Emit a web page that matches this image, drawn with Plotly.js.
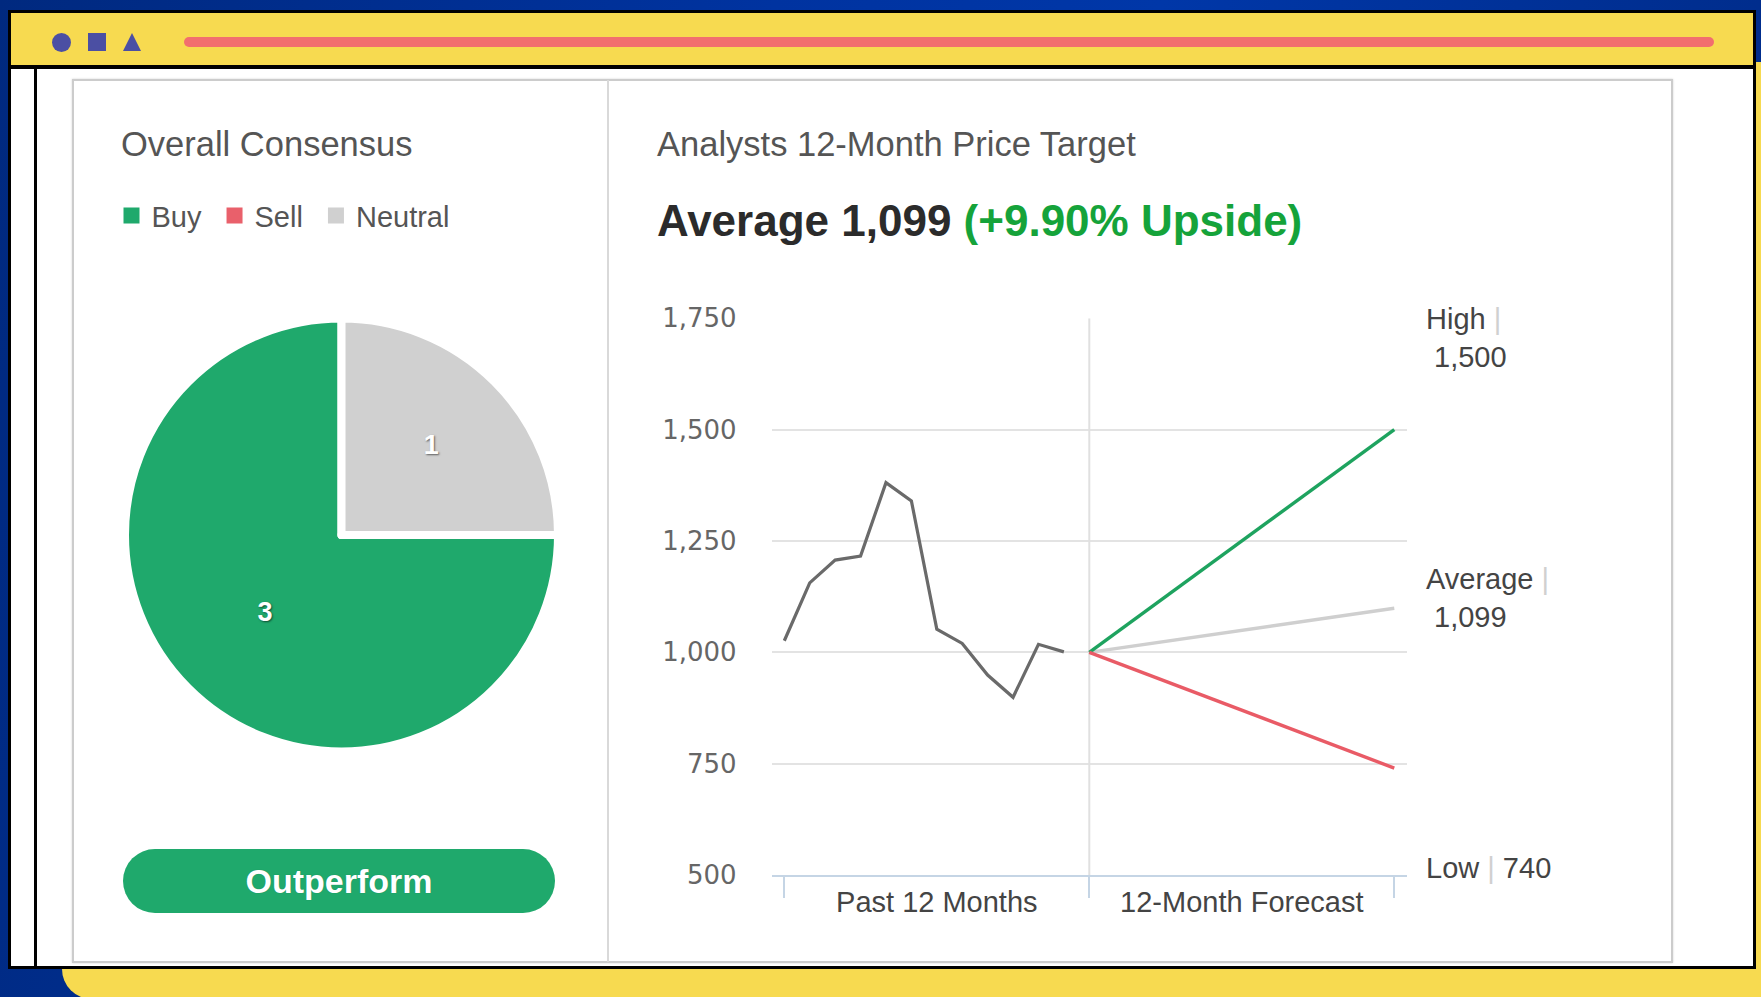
<!DOCTYPE html>
<html>
<head>
<meta charset="utf-8">
<script src="https://cdn.plot.ly/plotly-3.0.1.min.js"></script>
<style>
html,body{margin:0;padding:0;}
body{width:1761px;height:997px;overflow:hidden;position:relative;
  background:linear-gradient(100deg,#00297f 0%,#0033a0 40%,#0037a8 60%,#002a85 100%);
  font-family:"Liberation Sans",Arial,sans-serif;}
.abs{position:absolute;box-sizing:border-box;}
#back{left:62px;top:62px;width:1740px;height:937px;background:#f7da50;border-radius:30px;}
#win{left:8px;top:10px;width:1748px;height:959px;border:3px solid #000;background:#fff;}
#hdr{left:11px;top:13px;width:1742px;height:52px;background:#f7da50;}
#hdrline{left:11px;top:65px;width:1742px;height:3.5px;background:#000;}
#vline{left:34px;top:68px;width:2.5px;height:898px;background:#000;}
#ico1{left:52px;top:32.5px;width:19px;height:19px;border-radius:50%;background:#4b4fa3;}
#ico2{left:87.5px;top:32.5px;width:18.5px;height:18.5px;background:#4b4fa3;}
#ico3{left:122.5px;top:33px;width:0;height:0;border-left:9.5px solid transparent;border-right:9.5px solid transparent;border-bottom:18px solid #4b4fa3;}
#bar{left:183.7px;top:36.7px;width:1530px;height:10px;border-radius:5px;background:#f26e6e;}
#card{left:72px;top:79px;width:1601px;height:884px;border:2px solid #cccccc;background:#fff;box-shadow:0 0 2px rgba(0,0,0,0.18);}
#divider{left:607px;top:80px;width:2px;height:882px;background:#d9d9d9;}
#btn{left:123px;top:849px;width:432px;height:64px;border-radius:32px;background:#1fa96c;color:#fff;
  font-weight:bold;font-size:34px;line-height:64px;text-align:center;
  text-shadow:0 0 1px rgba(0,0,0,0.25);}
#chart{left:0;top:0;width:1761px;height:997px;}
</style>
</head>
<body>
<div class="abs" id="back"></div>
<div class="abs" id="win"></div>
<div class="abs" id="hdr"></div>
<div class="abs" id="hdrline"></div>
<div class="abs" id="vline"></div>
<div class="abs" id="ico1"></div>
<div class="abs" id="ico2"></div>
<div class="abs" id="ico3"></div>
<div class="abs" id="bar"></div>
<div class="abs" id="card"></div>
<div class="abs" id="divider"></div>
<div class="abs" id="btn"></div>
<div class="abs" id="chart"></div>
<script>
// ---------- DATA ----------
const consensusLabels = ['Buy', 'Sell', 'Neutral'];
const consensusCounts = [3, 0, 1];
const consensusColors = ['#1fa96c', '#e9606b', '#d0d0d0'];
const consensusRating = 'Outperform';

const pastPrices = [1026, 1156, 1207, 1216, 1381, 1340, 1052, 1020, 949, 899, 1018, 1001];
const currentPrice = 1000;
const forecastMonths = 12;
const targetLabels = ['Average', 'High', 'Low'];
const targetValues = [1099, 1500, 740];
const targetColors = ['#cfcfcf', '#1ea35f', '#e95b66'];
const periodLabels = ['Past 12 Months', '12-Month Forecast'];
const yTicks = [500, 750, 1000, 1250, 1500, 1750];

// ---------- HELPERS ----------
const fmt = v => v.toLocaleString('en-US');
const nPast = pastPrices.length;
const xEnd = nPast + forecastMonths;
const avgTarget = targetValues[targetLabels.indexOf('Average')];
const upside = (avgTarget / currentPrice - 1) * 100;

document.getElementById('btn').textContent = consensusRating;

// ---------- TRACES ----------
const traces = [];

traces.push({
  type: 'pie',
  labels: consensusLabels,
  values: consensusCounts,
  sort: false,
  direction: 'counterclockwise',
  rotation: 90,
  marker: {colors: consensusColors, line: {color: '#ffffff', width: 8}},
  textinfo: 'value',
  textposition: 'inside',
  insidetextorientation: 'horizontal',
  insidetextfont: {family: 'Liberation Sans, Arial, sans-serif', size: 27, color: '#ffffff', weight: 'bold',
                   shadow: '1px 1px 2px rgba(0,0,0,0.55)'},
  domain: {x: [125/1761, 558/1761], y: [245.5/997, 678.5/997]},
  showlegend: false,
  hoverinfo: 'label+value'
});

// legend entries for the consensus categories (trailing no-break space widens the item gap)
consensusLabels.forEach((lab, i) => {
  traces.push({
    type: 'scatter', mode: 'markers', x: [null], y: [null],
    name: lab + '\u00a0', marker: {symbol: 'square', size: 16, color: consensusColors[i]},
    showlegend: true, hoverinfo: 'skip'
  });
});

traces.push({
  type: 'scatter', mode: 'lines',
  x: pastPrices.map((v, i) => i), y: pastPrices,
  line: {color: '#6a6a6a', width: 3.2},
  showlegend: false, hoverinfo: 'y'
});

targetLabels.forEach((lab, i) => {
  traces.push({
    type: 'scatter', mode: 'lines',
    x: [nPast, xEnd], y: [currentPrice, targetValues[i]],
    line: {color: targetColors[i], width: 3.4},
    showlegend: false, name: lab, hoverinfo: 'name+y'
  });
});

// ---------- ANNOTATIONS ----------
const sep = '<span style="color:#d0d0d0">|</span>';
const labelShift = {High: 92, Average: 10, Low: -100};
const annotations = [
  {text: 'Overall Consensus', xref: 'paper', yref: 'paper', x: 119/1761, y: 1 - 143.5/997,
   xanchor: 'left', yanchor: 'middle', showarrow: false, font: {size: 34.5, color: '#555'}},
  {text: 'Analysts 12-Month Price Target', xref: 'paper', yref: 'paper', x: 655/1761, y: 1 - 143.5/997,
   xanchor: 'left', yanchor: 'middle', showarrow: false, font: {size: 34.5, color: '#555'}},
  {text: '<b>Average ' + fmt(avgTarget) + ' <span style="color:#15a33a">(+' + upside.toFixed(2) + '% Upside)</span></b>',
   xref: 'paper', yref: 'paper', x: 655/1761, y: 1 - 221/997,
   xanchor: 'left', yanchor: 'middle', showarrow: false, font: {size: 44, color: '#2b2b2b'}}
];
targetLabels.forEach((lab, i) => {
  const txt = lab === 'Low'
    ? lab + ' ' + sep + ' ' + fmt(targetValues[i])
    : lab + ' ' + sep + '<br> ' + fmt(targetValues[i]);
  annotations.push({
    text: txt, xref: 'x', yref: 'y', x: xEnd, y: targetValues[i],
    xanchor: 'left', yanchor: 'middle', align: 'left', xshift: 30, yshift: labelShift[lab],
    showarrow: false, font: {size: 29, color: '#444'}
  });
});

// ---------- LAYOUT ----------
const layout = {
  width: 1761, height: 997,
  margin: {l: 0, r: 0, t: 0, b: 0, pad: 0},
  paper_bgcolor: 'rgba(0,0,0,0)', plot_bgcolor: 'rgba(0,0,0,0)',
  font: {family: 'Liberation Sans, Arial, sans-serif', color: '#555'},
  showlegend: true,
  legend: {orientation: 'h', x: 111.5/1761, xanchor: 'left', y: 1 - 215.6/997, yanchor: 'middle',
           font: {size: 29, color: '#555'}, bgcolor: 'rgba(0,0,0,0)', itemclick: false, itemdoubleclick: false},
  xaxis: {domain: [771.6/1761, 1407/1761], range: [-0.5, xEnd + 0.5],
          tickmode: 'array', tickvals: [nPast / 2, nPast + forecastMonths / 2], ticktext: periodLabels,
          ticks: '', showgrid: false, zeroline: false,
          showline: true, linecolor: '#c5d5e5', linewidth: 2,
          tickfont: {size: 29, color: '#444'}, ticklabelstandoff: 0,
          minor: {tickmode: 'array', tickvals: [0, nPast, xEnd], ticks: 'outside', ticklen: 21,
                  tickwidth: 2, tickcolor: '#c5d5e5', showgrid: false},
          fixedrange: true},
  yaxis: {domain: [122/997, 678.7/997], range: [yTicks[0], yTicks[yTicks.length - 1]],
          tickmode: 'array', tickvals: yTicks, tickformat: ',',
          showgrid: true, gridcolor: '#e3e3e3', gridwidth: 2, zeroline: false, showline: false,
          ticks: '', tickfont: {family: 'DejaVu Sans, sans-serif', size: 26, color: '#666'},
          ticklabelstandoff: 34, fixedrange: true},
  shapes: [{type: 'line', xref: 'x', yref: 'y', x0: nPast, x1: nPast,
            y0: yTicks[0], y1: yTicks[yTicks.length - 1], layer: 'between',
            line: {color: '#e0e0e0', width: 2}}],
  annotations: annotations
};

Plotly.newPlot('chart', traces, layout, {displayModeBar: false, staticPlot: false, responsive: false});
</script>
</body>
</html>
